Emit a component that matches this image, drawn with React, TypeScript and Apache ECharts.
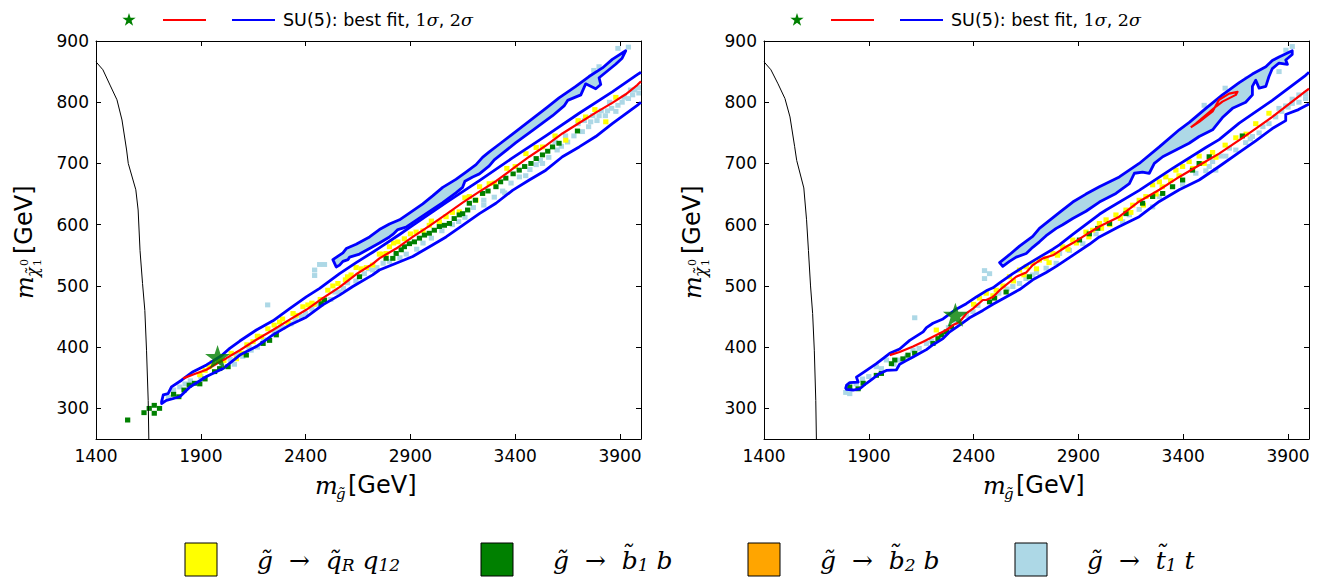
import React, { useEffect, useRef } from "react";
import * as echarts from "echarts";

type Pt = [number, number];

// axes
const xTicks = [1400, 1900, 2400, 2900, 3400, 3900];
const yTicks = [300, 400, 500, 600, 700, 800, 900];
const xMin = 1400;
const xMax = 4000;
const yMin = 250;
const yMax = 900;

// legend
const fitLabel = "{t|SU(5): best fit, }{d|1}{g|σ}{t|, }{d|2}{g|σ}";
const decayLabels = [
  "{i|g̃}{n|  →  }{i|q̃}{s|R}{n| }{i|q}{s|12}",
  "{i|g̃}{n|  →  }{i|b̃}{s|1}{n| }{i|b}",
  "{i|g̃}{n|  →  }{i|b̃}{s|2}{n| }{i|b}",
  "{i|g̃}{n|  →  }{i|t̃}{s|1}{n| }{i|t}",
];
const decayColors = ["#ffff00", "#008000", "#ffa500", "#add8e6"];

// ---------- left panel ----------
const leftLimit: Pt[] = [
  [1400, 866], [1433, 853], [1467, 828], [1500, 804], [1524, 771], [1546, 722], [1554, 700],
  [1590, 657], [1601, 624], [1610, 558], [1622, 504], [1633, 460], [1641, 395], [1649, 313], [1652, 250],
];
const leftBest: Pt[] = [[1980, 384]];
const leftSigma1: Pt[] = [
  [1816, 349], [1870, 356], [1927, 363], [1975, 373], [2022, 382], [2086, 395], [2165, 412], [2244, 428],
  [2324, 445], [2403, 461], [2482, 480], [2562, 498], [2641, 519], [2720, 536], [2752, 545], [2832, 561],
  [2911, 580], [2991, 598], [3070, 617], [3149, 636], [3229, 654], [3308, 671], [3387, 691], [3467, 711],
  [3546, 729], [3625, 749], [3705, 766], [3784, 783], [3863, 799], [3927, 813], [3982, 828], [4000, 834],
];
const leftSigma2: Pt[] = [
  [4000, 849], [3982, 845], [3863, 817], [3705, 782], [3546, 745], [3387, 709], [3229, 672], [3070, 636],
  [2911, 599], [2848, 584], [2752, 562], [2720, 555], [2641, 538], [2562, 520], [2467, 496], [2403, 482],
  [2324, 463], [2244, 443], [2165, 428], [2086, 410], [2038, 398], [1998, 386], [1927, 371], [1863, 360],
  [1808, 346], [1760, 335], [1744, 324], [1721, 322], [1713, 311], [1713, 308], [1736, 313], [1800, 319],
  [1848, 335], [1927, 352], [2006, 365], [2086, 387], [2165, 401], [2244, 420], [2324, 436], [2403, 449],
  [2482, 469], [2562, 485], [2625, 499], [2720, 518], [2752, 526], [2832, 537], [2911, 548], [2991, 564],
  [3070, 580], [3149, 599], [3229, 618], [3308, 635], [3387, 656], [3467, 673], [3546, 689], [3625, 711],
  [3705, 727], [3784, 744], [3863, 765], [3982, 795], [4000, 800],
];
const leftIsland: Pt[] = [
  [2530, 543], [2578, 554], [2594, 561], [2641, 568], [2705, 580], [2752, 592], [2800, 601], [2848, 608],
  [2895, 619], [2959, 634], [3006, 647], [3054, 661], [3117, 674], [3165, 686], [3213, 698], [3244, 710],
  [3276, 719], [3330, 733], [3387, 748], [3467, 769], [3546, 790], [3609, 807], [3689, 826], [3752, 842],
  [3816, 856], [3863, 870], [3927, 884], [3910, 872], [3879, 862], [3800, 840], [3808, 829], [3784, 822],
  [3736, 830], [3713, 812], [3650, 803], [3633, 794], [3578, 778], [3483, 754], [3403, 734], [3330, 714],
  [3300, 706], [3276, 696], [3229, 683], [3197, 678], [3160, 671], [3149, 661], [3117, 652], [3054, 636],
  [2975, 618], [2927, 607], [2879, 596], [2840, 592], [2816, 584], [2800, 580], [2752, 570], [2705, 561],
  [2657, 552], [2610, 547], [2602, 543], [2578, 540], [2562, 534], [2546, 531],
];
const leftQR: Pt[] = [
  [1895, 355], [1920, 362], [1955, 375], [2010, 378], [2070, 381], [2095, 390], [2149, 409], [2189, 417],
  [2220, 430], [2276, 441], [2316, 439], [2355, 452], [2387, 466], [2411, 469], [2506, 493], [2554, 504],
  [2617, 518], [2641, 530], [2665, 528], [2720, 534], [2752, 552], [2784, 553], [2800, 564], [2840, 572],
  [2871, 577], [2927, 588], [2990, 599], [3038, 605], [3070, 613], [3133, 621], [3181, 646], [3213, 640],
  [3244, 651], [3276, 667], [3451, 716], [3530, 727], [3641, 738], [3736, 776], [3832, 768], [2440, 470],
  [2470, 478], [2590, 510], [2690, 530], [2900, 585], [2960, 590], [3100, 620], [3300, 668], [3400, 695],
  [1940, 368], [1985, 378], [2045, 390], [2120, 404], [2170, 418], [2250, 436], [2290, 446], [2340, 455],
  [2430, 472], [2530, 500], [2600, 515], [2760, 552], [2820, 570], [3000, 606], [3160, 644], [3230, 662],
  [3360, 692], [3500, 726], [3590, 745], [3700, 770], [3780, 788], [3880, 808],
];
const leftB1: Pt[] = [
  [1551, 281], [1629, 293], [1654, 300], [1678, 305], [1678, 292], [1703, 300], [1770, 323], [1795, 319],
  [1820, 330], [1845, 338], [1870, 341], [1895, 340], [1920, 348], [1966, 360], [1990, 365], [2030, 368],
  [2117, 387], [2197, 406], [2228, 411], [2260, 420], [2474, 471], [2490, 477], [2657, 515], [2784, 545],
  [2816, 545], [2832, 553], [2856, 559], [2871, 564], [2895, 569], [2919, 572], [2943, 578], [2967, 583],
  [2990, 586], [3014, 591], [3038, 597], [3062, 599], [3086, 602], [3109, 610], [3133, 616], [3149, 618],
  [3173, 624], [3181, 635], [3210, 640], [3244, 651], [3270, 655], [3308, 662], [3330, 670], [3355, 676],
  [3390, 683], [3419, 689], [3445, 695], [3475, 700], [3500, 708], [3530, 714], [3555, 720], [3578, 727],
  [3609, 733], [3697, 753],
];
const leftB2: Pt[] = [];
const leftT1: Pt[] = [
  [1745, 318], [1770, 330], [1800, 335], [1825, 340], [1850, 345], [1900, 352], [2040, 380], [2060, 372],
  [2100, 385], [2140, 395], [2170, 400], [2250, 425], [2290, 432], [2330, 438], [2380, 450], [2430, 462],
  [2450, 470], [2520, 478], [2540, 490], [2580, 496], [2600, 505], [2680, 520], [2700, 528], [2740, 530],
  [2770, 537], [2880, 552], [2960, 570], [3000, 578], [3100, 600], [3160, 612], [3200, 628], [3300, 645],
  [3340, 655], [3420, 678], [3470, 690], [3500, 698], [3560, 710], [3600, 722], [3650, 735], [3680, 745],
  [3720, 752], [3750, 760], [3760, 768], [3790, 770], [3800, 778], [3830, 778], [3840, 786], [3860, 790],
  [3880, 785], [3890, 795], [3910, 800], [3920, 808], [3940, 806], [3960, 812], [3970, 820], [3990, 815],
  [3990, 824], [3700, 765], [3640, 745], [3590, 735], [2443, 517], [2443, 526], [2467, 535], [2490, 535],
  [2219, 469], [3940, 890], [3890, 888], [3860, 862], [3800, 858], [3775, 852], [3730, 770], [3770, 778],
  [3810, 786], [3850, 800], [3950, 820], [3620, 728], [3520, 705], [3380, 668], [3250, 640], [2000, 370],
  [2070, 388], [2130, 400], [2200, 412], [2270, 429], [2350, 446], [2400, 455], [2470, 470], [2560, 490],
  [2640, 508], [2720, 526], [2800, 540], [2850, 546], [2930, 560], [3050, 590], [3130, 605], [3250, 632],
  [3350, 652], [3450, 680], [3530, 700],
];

// ---------- right panel ----------
const rightLimit: Pt[] = [
  [1400, 866], [1433, 853], [1467, 830], [1500, 806], [1524, 776], [1546, 728], [1556, 705], [1590, 660],
  [1603, 608], [1612, 558], [1622, 500], [1632, 455], [1640, 395], [1647, 313], [1650, 250],
];
const rightBest: Pt[] = [[2313, 453]];
const rightSigma1: Pt[] = [
  [2000, 387], [2047, 392], [2111, 401], [2159, 409], [2206, 417], [2270, 428], [2302, 436], [2333, 441],
  [2365, 455], [2397, 463], [2444, 477], [2460, 477], [2492, 482], [2524, 493], [2603, 515], [2651, 522],
  [2682, 534], [2730, 545], [2778, 550], [2841, 564], [2873, 570], [2920, 580], [3000, 597], [3095, 613],
  [3190, 638], [3286, 657], [3381, 678], [3476, 697], [3571, 716], [3667, 738], [3746, 757], [3825, 776],
  [3904, 797], [3984, 818], [4000, 822],
];
const rightSigma1Island: Pt[] = [
  [3436, 759], [3476, 768], [3540, 785], [3571, 804], [3619, 814], [3659, 817], [3651, 812], [3587, 801],
  [3556, 793], [3508, 779], [3460, 765], [3436, 759],
];
const rightSigma2: Pt[] = [
  [4000, 849], [3984, 844], [3825, 803], [3667, 766], [3571, 739], [3508, 726], [3349, 692], [3190, 656],
  [3032, 624], [3000, 617], [2873, 584], [2809, 567], [2778, 560], [2714, 547], [2651, 534], [2587, 520],
  [2524, 505], [2492, 497], [2460, 492], [2413, 482], [2365, 471], [2317, 462], [2254, 446], [2206, 439],
  [2175, 432], [2159, 425], [2095, 411], [2047, 397], [2000, 390], [1936, 373], [1889, 362], [1841, 351],
  [1849, 343], [1809, 342], [1794, 338], [1790, 333], [1794, 331], [1825, 330], [1857, 332], [1889, 341],
  [1921, 349], [1952, 357], [1984, 362], [2032, 363], [2047, 372], [2079, 378], [2111, 384], [2143, 390],
  [2175, 396], [2206, 404], [2254, 414], [2286, 425], [2333, 436], [2381, 448], [2444, 460], [2492, 470],
  [2555, 482], [2619, 494], [2682, 510], [2746, 522], [2794, 532], [2873, 550], [2952, 568], [3000, 580],
  [3095, 597], [3190, 613], [3286, 638], [3381, 657], [3476, 673], [3571, 695], [3667, 718], [3746, 737],
  [3825, 757], [3889, 770], [3889, 780], [3950, 788], [4000, 797],
];
const rightIsland: Pt[] = [
  [2524, 538], [2571, 551], [2619, 565], [2682, 581], [2714, 594], [2810, 620], [2873, 637], [2936, 650],
  [3000, 662], [3095, 678], [3190, 700], [3286, 727], [3381, 755], [3429, 767], [3508, 790], [3587, 812],
  [3667, 832], [3730, 846], [3794, 858], [3825, 868], [3857, 874], [3920, 884], [3920, 878], [3889, 869],
  [3897, 862], [3857, 864], [3825, 855], [3809, 842], [3794, 826], [3762, 823], [3746, 836], [3730, 826],
  [3730, 812], [3698, 800], [3635, 790], [3587, 775], [3540, 755], [3476, 744], [3428, 733], [3365, 722],
  [3302, 711], [3262, 700], [3238, 684], [3206, 686], [3167, 684], [3143, 667], [3079, 651], [3000, 637],
  [2936, 622], [2873, 610], [2825, 600], [2794, 594], [2746, 582], [2714, 572], [2682, 563], [2651, 553],
  [2603, 547], [2571, 540], [2539, 532],
];
const rightQR: Pt[] = [
  [2222, 428], [2400, 470], [2428, 480], [2460, 488], [2492, 484], [2508, 493], [2540, 500], [2571, 515],
  [2590, 508], [2619, 526], [2640, 518], [2651, 531], [2682, 537], [2700, 528], [2714, 542], [2746, 545],
  [2760, 538], [2778, 553], [2800, 550], [2825, 564], [2850, 560], [2873, 575], [2890, 570], [2936, 588],
  [2950, 580], [2968, 591], [3000, 602], [3010, 594], [3032, 608], [3050, 600], [3079, 616], [3100, 610],
  [3127, 624], [3150, 620], [3159, 632], [3190, 640], [3210, 632], [3222, 646], [3254, 665], [3270, 650],
  [3286, 670], [3300, 662], [3317, 678], [3340, 672], [3365, 689], [3380, 680], [3397, 695], [3428, 703],
  [3445, 692], [3476, 712], [3500, 700], [3540, 718], [3556, 710], [3600, 730], [3651, 742], [3700, 748],
  [3746, 765], [3809, 782],
];
const rightB1: Pt[] = [
  [1809, 335], [1849, 332], [1873, 341], [1936, 354], [1960, 357], [2008, 373], [2024, 379], [2063, 381],
  [2087, 387], [2119, 390], [2206, 406], [2230, 414], [2246, 420], [2270, 425], [2294, 433], [2476, 474],
  [2500, 480], [2555, 490], [2666, 515], [2905, 575], [2952, 585], [2992, 594], [3048, 602], [3127, 618],
  [3206, 635], [3254, 646], [3302, 651], [3349, 662], [3397, 673], [3444, 689], [3476, 700], [3524, 711],
  [3682, 745],
];
const rightB2: Pt[] = [];
const rightT1: Pt[] = [
  [1790, 326], [1809, 324], [1936, 368], [1984, 379], [2047, 379], [2111, 395], [2175, 406], [2317, 440],
  [2365, 452], [2397, 458], [2587, 499], [2619, 504], [2682, 518], [2746, 529], [2794, 537], [2810, 553],
  [2857, 558], [2921, 569], [2984, 585], [3111, 605], [3143, 616], [3190, 625], [3254, 629], [3286, 646],
  [3349, 662], [3397, 666], [3460, 684], [3508, 688], [3524, 695], [3540, 703], [3555, 689], [3603, 712],
  [3651, 722], [3698, 734], [3730, 744], [3762, 750], [3809, 765], [3841, 776], [3857, 790], [3889, 794],
  [3920, 805], [3952, 812], [3984, 814], [3952, 800], [3984, 806], [3920, 798], [3870, 785], [3900, 792],
  [3780, 760], [3720, 740], [3620, 725], [3580, 712], [2119, 448], [2452, 512], [2476, 520], [2452, 525],
  [3920, 891], [3890, 885], [3857, 850], [3760, 845], [3705, 838], [3600, 823], [3500, 795], [1840, 340],
  [1870, 348], [1900, 352], [1960, 365], [2020, 372], [2080, 384], [2140, 398], [2200, 410], [2250, 420],
  [2280, 432], [2420, 468], [2520, 488], [2560, 495], [2650, 512], [2700, 522],
];

const starPoints = (cx: number, cy: number, R: number): number[][] => {
  const pts: number[][] = [];
  for (let k = 0; k < 10; k++) {
    const a = -Math.PI / 2 + (k * Math.PI) / 5;
    const r = k % 2 === 0 ? R : R * 0.382;
    pts.push([cx + Math.cos(a) * r, cy + Math.sin(a) * r]);
  }
  return pts;
};
const starSymbol = "path://M" + starPoints(0, 0, 1).map((p) => `${p[0].toFixed(3)} ${p[1].toFixed(3)}`).join(" L") + " Z";

interface Panel {
  limit: Pt[];
  best: Pt[];
  sigma1: Pt[][];
  sigma2: Pt[];
  island: Pt[];
  qR: Pt[];
  b1: Pt[];
  b2: Pt[];
  t1: Pt[];
}

function panelSeries(idx: number, p: Panel): any[] {
  const ax = { xAxisIndex: idx * 2, yAxisIndex: idx * 2 };
  const cells = (data: Pt[], color: string) => ({
    type: "custom",
    ...ax,
    silent: true,
    clip: true,
    data,
    renderItem: (params: any, api: any) => {
      const c = api.coord([api.value(0), api.value(1)]);
      const s = api.size([25, 8]);
      return {
        type: "rect",
        shape: { x: c[0] - s[0] / 2, y: c[1] - s[1] / 2, width: s[0], height: s[1] },
        style: { fill: color },
      };
    },
  });
  const line = (data: Pt[], color: string, width: number) => ({
    type: "line",
    ...ax,
    data,
    symbol: "none",
    silent: true,
    clip: true,
    lineStyle: { color, width, join: "round" },
  });
  return [
    cells(p.t1, "#add8e6"),
    cells(p.b2, "#ffa500"),
    cells(p.qR, "#ffff00"),
    cells(p.b1, "#008000"),
    {
      type: "custom",
      ...ax,
      silent: true,
      clip: true,
      data: [p.island[0]],
      renderItem: (params: any, api: any) => ({
        type: "polygon",
        shape: { points: p.island.map((q) => api.coord(q)) },
        style: { fill: "#add8e6", stroke: "#0000ff", lineWidth: 2.8, lineJoin: "round" },
      }),
    },
    line(p.sigma2, "#0000ff", 2.8),
    ...p.sigma1.map((s) => line(s, "#ff0000", 2.2)),
    line(p.limit, "#000000", 1),
    {
      type: "scatter",
      ...ax,
      data: p.best,
      symbol: starSymbol,
      symbolSize: [25, 24],
      silent: true,
      itemStyle: { color: "#008000" },
      z: 5,
    },
  ];
}

function axisPair(grid: number, kind: "x" | "y") {
  const axisLine = { show: true, onZero: false, lineStyle: { color: "#000", width: 1 } };
  const ticks = kind === "x" ? xTicks : yTicks;
  const axisTick = { show: true, inside: true, length: 5, customValues: ticks, lineStyle: { color: "#000", width: 1 } };
  const base = {
    type: "value",
    gridIndex: grid,
    min: kind === "x" ? xMin : yMin,
    max: kind === "x" ? xMax : yMax,
    axisLine,
    axisTick,
    splitLine: { show: false },
  };
  return [
    {
      ...base,
      position: kind === "x" ? "bottom" : "left",
      axisLabel: {
        customValues: ticks,
        formatter: (v: number) => String(v),
        color: "#000",
        fontSize: 17,
        fontFamily: "DejaVu Sans",
        margin: kind === "x" ? 8 : 7,
      },
    },
    { ...base, position: kind === "x" ? "top" : "right", axisLabel: { show: false } },
  ];
}

function panelGraphics(dx: number): any[] {
  const serif = "DejaVu Serif";
  const sans = "DejaVu Sans";
  return [
    // top legend
    { type: "polygon", shape: { points: starPoints(129 + dx, 20, 7) }, style: { fill: "#008000" } },
    { type: "line", shape: { x1: 163 + dx, y1: 20, x2: 206 + dx, y2: 20 }, style: { stroke: "#ff0000", lineWidth: 2 } },
    { type: "line", shape: { x1: 232 + dx, y1: 20, x2: 275 + dx, y2: 20 }, style: { stroke: "#0000ff", lineWidth: 2 } },
    {
      type: "text",
      x: 283 + dx,
      y: 20,
      style: {
        text: fitLabel,
        verticalAlign: "middle",
        rich: {
          t: { fontFamily: sans, fontSize: 17.5, fill: "#000" },
          d: { fontFamily: serif, fontSize: 17.5, fill: "#000" },
          g: { fontFamily: serif, fontStyle: "italic", fontSize: 17.5, fill: "#000" },
        },
      },
    },
    // x title
    { type: "text", x: 315 + dx, y: 486, style: { text: "m", fontFamily: serif, fontStyle: "italic", fontSize: 24, fill: "#000", verticalAlign: "middle" } },
    { type: "text", x: 336 + dx, y: 494, style: { text: "g̃", fontFamily: serif, fontStyle: "italic", fontSize: 15, fill: "#000", verticalAlign: "middle" } },
    { type: "text", x: 348 + dx, y: 485, style: { text: "[GeV]", fontFamily: sans, fontSize: 24, fill: "#000", verticalAlign: "middle" } },
    // y title
    {
      type: "group",
      x: 25 + dx,
      y: 299,
      rotation: Math.PI / 2,
      children: [
        { type: "text", x: 0, y: 0, style: { text: "m", fontFamily: serif, fontStyle: "italic", fontSize: 24, fill: "#000", verticalAlign: "middle" } },
        { type: "text", x: 22, y: 7, style: { text: "χ̃", fontFamily: serif, fontStyle: "italic", fontSize: 16, fill: "#000", verticalAlign: "middle" } },
        { type: "text", x: 33, y: 12, style: { text: "1", fontFamily: serif, fontSize: 11, fill: "#000", verticalAlign: "middle" } },
        { type: "text", x: 33, y: -1, style: { text: "0", fontFamily: serif, fontSize: 11, fill: "#000", verticalAlign: "middle" } },
        { type: "text", x: 45, y: -1, style: { text: "[GeV]", fontFamily: sans, fontSize: 24, fill: "#000", verticalAlign: "middle" } },
      ],
    },
  ];
}

function decayLegend(): any[] {
  const squares = [185, 481, 748, 1015];
  const out: any[] = [];
  decayLabels.forEach((label, i) => {
    out.push({
      type: "rect",
      shape: { x: squares[i], y: 543, width: 32, height: 33 },
      style: { fill: decayColors[i], stroke: "#000", lineWidth: 1 },
    });
    out.push({
      type: "text",
      x: squares[i] + 72,
      y: 560,
      style: {
        text: label,
        verticalAlign: "middle",
        rich: {
          i: { fontFamily: "DejaVu Serif", fontStyle: "italic", fontSize: 25, fill: "#000" },
          n: { fontFamily: "DejaVu Serif", fontSize: 25, fill: "#000" },
          s: { fontFamily: "DejaVu Serif", fontStyle: "italic", fontSize: 17, fill: "#000", verticalAlign: "bottom", padding: [10, 0, 0, 0] },
        },
      },
    });
  });
  return out;
}

export default function App() {
  const chartRef = useRef<HTMLDivElement>(null);

  useEffect(() => {
    if (!chartRef.current) return;
    const chart = echarts.init(chartRef.current, undefined, { renderer: "svg" });

    const left: Panel = {
      limit: leftLimit, best: leftBest, sigma1: [leftSigma1], sigma2: leftSigma2, island: leftIsland,
      qR: leftQR, b1: leftB1, b2: leftB2, t1: leftT1,
    };
    const right: Panel = {
      limit: rightLimit, best: rightBest, sigma1: [rightSigma1, rightSigma1Island], sigma2: rightSigma2, island: rightIsland,
      qR: rightQR, b1: rightB1, b2: rightB2, t1: rightT1,
    };

    const [x0, x0t] = axisPair(0, "x");
    const [x1, x1t] = axisPair(1, "x");
    const [y0, y0r] = axisPair(0, "y");
    const [y1, y1r] = axisPair(1, "y");

    const option: any = {
      animation: false,
      backgroundColor: "#ffffff",
      grid: [
        { left: 96, top: 41, width: 545, height: 398, show: false },
        { left: 764, top: 41, width: 545, height: 398, show: false },
      ],
      xAxis: [x0, x0t, x1, x1t],
      yAxis: [y0, y0r, y1, y1r],
      series: [...panelSeries(0, left), ...panelSeries(1, right)],
      graphic: [...panelGraphics(0), ...panelGraphics(668), ...decayLegend()],
    };

    chart.setOption(option);
    return () => {
      chart.dispose();
    };
  }, []);

  return (
    <div
      ref={chartRef}
      style={{ position: "absolute", left: 0, top: 0, width: 1322, height: 578, background: "#fff" }}
    />
  );
}
